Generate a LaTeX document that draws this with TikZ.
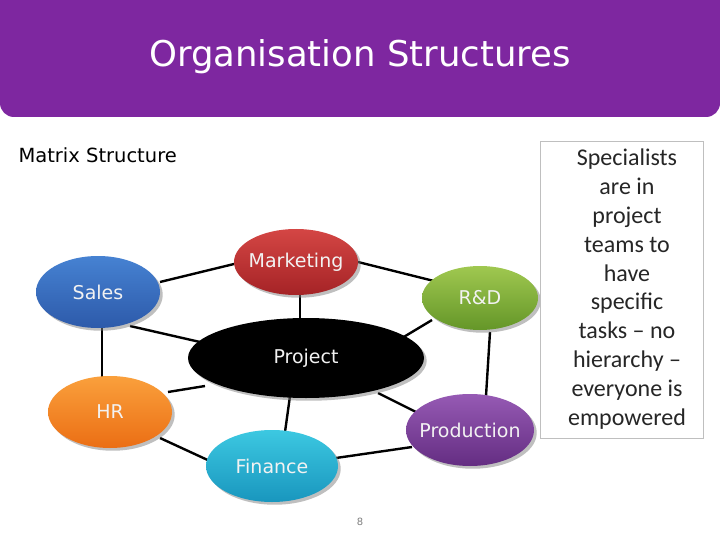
\documentclass[tikz,border=0pt]{standalone}
\usepackage{fontspec}
\setmainfont{DejaVu Sans}
\newfontfamily\carl{Carlito}
\usetikzlibrary{shapes.geometric,shadows}
\definecolor{ttl}{HTML}{7E27A0}
\tikzset{
 blob/.style={ellipse,minimum width=#1,inner sep=0pt,drop shadow},
 lbl/.style={font=\fontsize{19}{19}\selectfont,text=white!95!black},
 link/.style={line width=2.4pt,black},
}
\begin{document}
\begin{tikzpicture}[x=1pt,y=-1pt]
\useasboundingbox (0,0) rectangle (720,540);
\fill[white] (0,0) rectangle (720,540);
\fill[ttl,rounded corners=14pt] (0,-20) rectangle (720,117);
\node[text=white,font=\fontsize{35.5}{36}\selectfont] (title) at (360,57) {Organisation Structures};
\node[anchor=west,font=\fontsize{19.5}{20}\selectfont] (mx) at (15,155) {Matrix Structure};
\coordinate (s) at (98,292); \coordinate (m) at (296,262); \coordinate (r) at (480,298);
\coordinate (p) at (306,358); \coordinate (h) at (110,412); \coordinate (pr) at (470,430);
\coordinate (f) at (272,466);
\draw[link] (160,282) -- (234,264);
\draw[link] (358,262) -- (442,283);
\draw[link] (130,326) -- (200,342);
\draw[link] (102,328) -- (102,378);
\draw[link] (432,320) -- (402,338);
\draw[link] (490,332) -- (486,396);
\draw[link] (300,294) -- (300,320);
\draw[link] (168,392) -- (205,386);
\draw[link] (290,396) -- (285,432);
\draw[link] (160,438) -- (212,462);
\draw[link] (336,458) -- (412,447);
\draw[link] (378,393) -- (420,414);
\node[blob=124pt,minimum height=66pt,top color={rgb,255:red,212;green,70;blue,68},bottom color={rgb,255:red,165;green,35;blue,38}] (mk) at (m) {};
\node[lbl] (mkt) at (296,262) {Marketing};
\node[blob=124pt,minimum height=72pt,top color={rgb,255:red,70;green,130;blue,210},bottom color={rgb,255:red,45;green,90;blue,170}] (sa) at (s) {};
\node[lbl] (sat) at (98,292) {Sales};
\node[blob=116pt,minimum height=64pt,top color={rgb,255:red,160;green,200;blue,80},bottom color={rgb,255:red,100;green,150;blue,40}] (rd) at (r) {};
\node[lbl] (rdt) at (480,298) {R\&D};
\node[blob=236pt,minimum height=80pt,fill=black] (pj) at (p) {};
\node[lbl] (pjt) at (306,358) {Project};
\node[blob=124pt,minimum height=72pt,top color={rgb,255:red,250;green,160;blue,60},bottom color={rgb,255:red,235;green,110;blue,20}] (hr) at (h) {};
\node[lbl] (hrt) at (110,412) {HR};
\node[blob=128pt,minimum height=72pt,top color={rgb,255:red,150;green,90;blue,180},bottom color={rgb,255:red,100;green,45;blue,130}] (pd) at (pr) {};
\node[lbl] (pdt) at (470,430) {Production};
\node[blob=132pt,minimum height=72pt,top color={rgb,255:red,60;green,200;blue,225},bottom color={rgb,255:red,25;green,150;blue,190}] (fi) at (f) {};
\node[lbl] (fit) at (272,466) {Finance};
\node[draw=black!25,line width=0.8pt,minimum width=163pt,minimum height=297pt,inner sep=0pt] (box) at (621.5,289.5) {};
\node[align=center,font=\carl\fontsize{24}{28.8}\selectfont,text=black!85] (txt) at (627,289) {Specialists\\are in\\project\\teams to\\have\\specific\\tasks – no\\hierarchy –\\everyone is\\empowered};
\node[text=black!50,font=\fontsize{10}{10}\selectfont] (pg) at (360,522) {8};
\end{tikzpicture}
\end{document}
